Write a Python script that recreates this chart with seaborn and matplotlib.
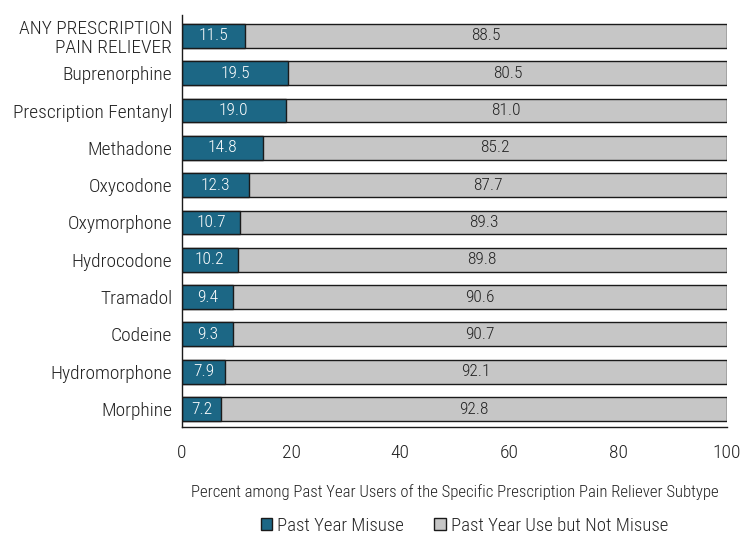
import matplotlib
matplotlib.use("Agg")
import matplotlib.pyplot as plt
import seaborn as sns
import pandas as pd
from matplotlib.patches import Patch

categories = ["ANY PRESCRIPTION\nPAIN RELIEVER", "Buprenorphine", "Prescription Fentanyl",
              "Methadone", "Oxycodone", "Oxymorphone", "Hydrocodone", "Tramadol",
              "Codeine", "Hydromorphone", "Morphine"]
misuse = [11.5, 19.5, 19.0, 14.8, 12.3, 10.7, 10.2, 9.4, 9.3, 7.9, 7.2]
not_misuse = [88.5, 80.5, 81.0, 85.2, 87.7, 89.3, 89.8, 90.6, 90.7, 92.1, 92.8]

teal = "#1c6785"
grey = "#c6c6c6"

sns.set_style("white")
plt.rcParams['font.family'] = ['Roboto Condensed', 'DejaVu Sans']
plt.rcParams['font.weight'] = 'light'
plt.rcParams['axes.labelweight'] = 'light'

df = pd.DataFrame({"cat": categories, "misuse": misuse, "not": not_misuse})
df["total"] = df["misuse"] + df["not"]

fig = plt.figure(figsize=(7.53, 5.35), dpi=100)
ax = fig.add_axes([0.2417, 0.2019, 0.7238, 0.7701])

sns.barplot(data=df, x="total", y="cat", color=grey, edgecolor="#1a1a1a",
            linewidth=1.0, width=0.64, ax=ax, saturation=1)
sns.barplot(data=df, x="misuse", y="cat", color=teal, edgecolor="#1a1a1a",
            linewidth=1.0, width=0.64, ax=ax, saturation=1)

for i, (m, n) in enumerate(zip(misuse, not_misuse)):
    ax.text(m / 2, i, f"{m:.1f}", color="white", ha="center", va="center", fontsize=12.5)
    ax.text(m + n / 2, i, f"{n:.1f}", color="#222222", ha="center", va="center", fontsize=12.5)

ax.set_xlim(0, 100)
ax.set_ylim(10.48, -0.56)
ax.set_xticks([0, 20, 40, 60, 80, 100])
ax.tick_params(axis="both", length=0, labelsize=14, colors="#222222")
ax.tick_params(axis="x", pad=12)
ax.tick_params(axis="y", pad=7)
ax.set_ylabel("")
ax.set_xlabel("Percent among Past Year Users of the Specific Prescription Pain Reliever Subtype",
              fontsize=12.1, labelpad=16, color="#222222", fontweight="light")
for lab in ax.get_yticklabels():
    lab.set_linespacing(1.05)

sns.despine(ax=ax, top=True, right=True)
for s in ["left", "bottom"]:
    ax.spines[s].set_color("#1a1a1a")
    ax.spines[s].set_linewidth(1.0)

handles = [Patch(facecolor=teal, edgecolor="#1a1a1a", label="Past Year Misuse"),
           Patch(facecolor=grey, edgecolor="#1a1a1a", label="Past Year Use but Not Misuse")]
fig.legend(handles=handles, loc="center", bbox_to_anchor=(0.617, 0.017), ncol=2,
           frameon=False, fontsize=13.5, handlelength=0.6, handleheight=0.6,
           handletextpad=0.3, columnspacing=1.6, borderpad=0)

fig.savefig("out.png", dpi=100)
